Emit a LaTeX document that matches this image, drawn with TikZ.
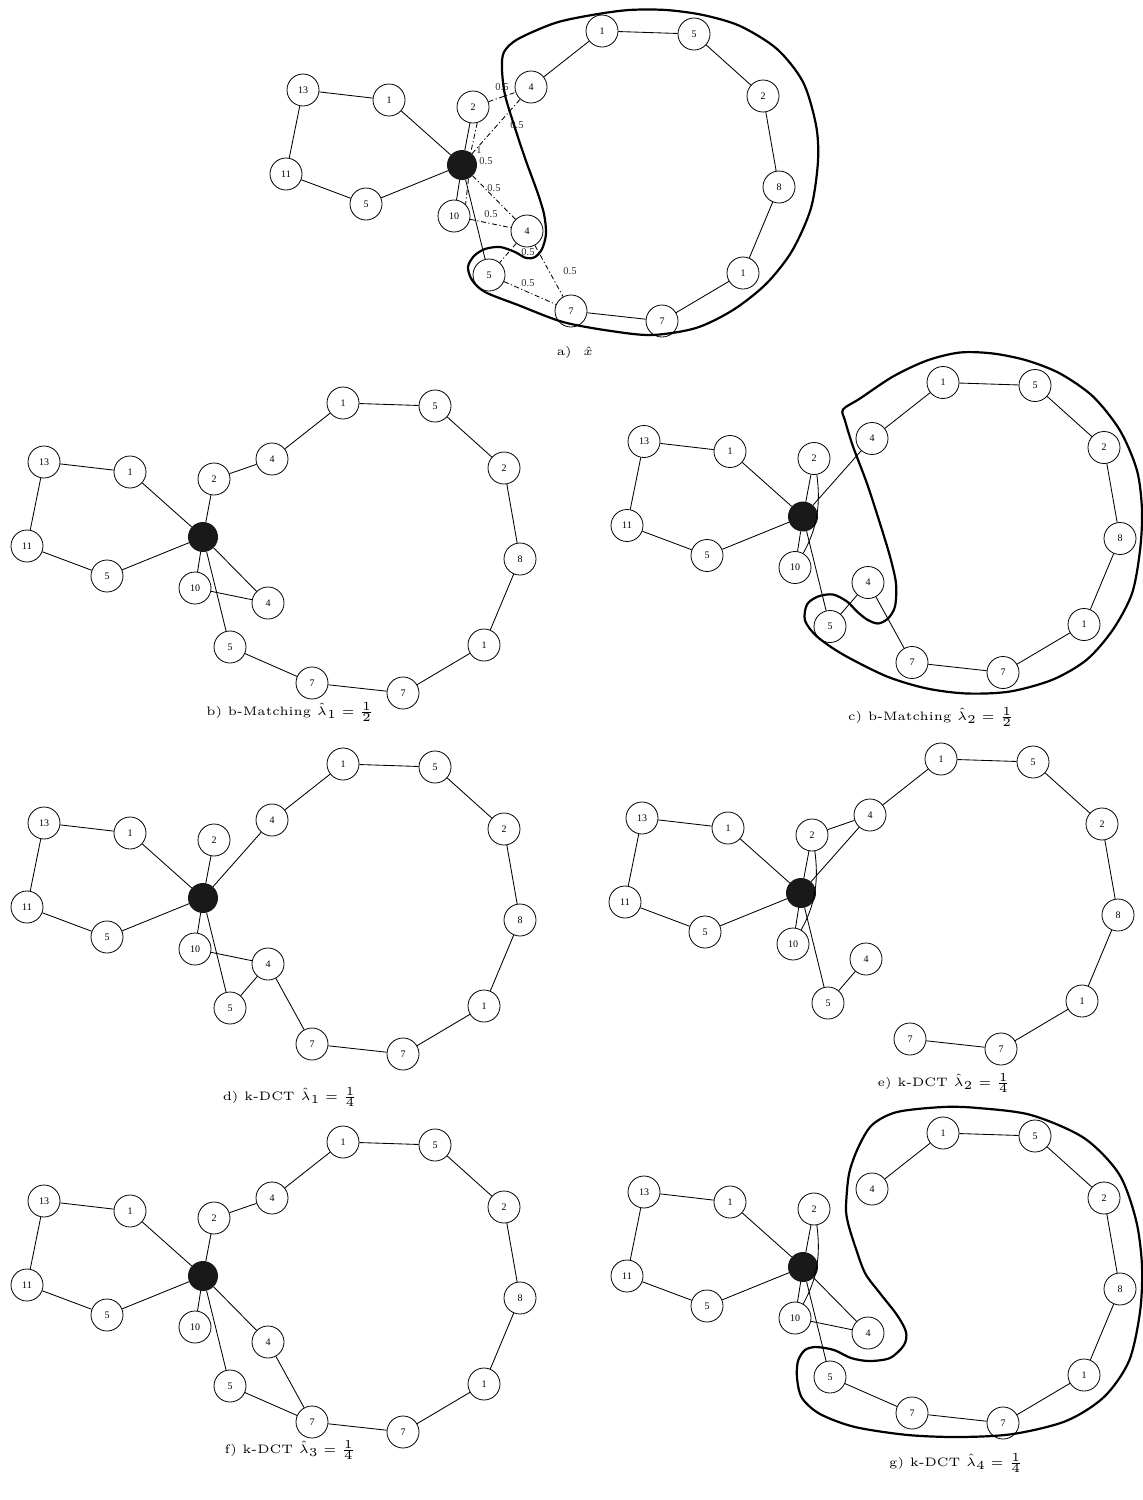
\documentclass[tikz,border=0pt]{standalone}
\usepackage{fontspec}
\newfontfamily\numfont{Liberation Serif}
\tikzset{
  vx/.style={circle,draw,fill=white,line width=0.8pt,minimum size=32pt,inner sep=0pt,
    font=\numfont\fontsize{10}{10}\selectfont},
  hub/.style={circle,fill=black!90,minimum size=30pt,inner sep=0pt},
  edge/.style={line width=0.85pt},
  halfedge/.style={line width=0.85pt,dash pattern=on 5pt off 2.5pt on 1.2pt off 2.5pt},
  wt/.style={inner sep=0pt,text=black!80,font=\numfont\fontsize{10.5}{10.5}\selectfont},
  loopline/.style={line width=2.2pt,line join=round},
  caption/.style={scale=2.45,inner sep=0pt,font=\tiny},
  pics/basegraph/.style={code={
    \node[hub] (-h) at (0,0) {};
    \node[vx] (-n13) at (-159,-75) {13};
    \node[vx] (-n1a) at (-73,-65) {1};
    \node[vx] (-n11) at (-176,9) {11};
    \node[vx] (-n5l) at (-96,39) {5};
    \node[vx] (-n2) at (11,-58) {2};
    \node[vx] (-n4u) at (69,-78) {4};
    \node[vx] (-n1t) at (140,-134) {1};
    \node[vx] (-n5t) at (232,-131) {5};
    \node[vx] (-n2r) at (301,-69) {2};
    \node[vx] (-n8) at (317,22) {8};
    \node[vx] (-n1r) at (281,108) {1};
    \node[vx] (-n7r) at (200,156) {7};
    \node[vx] (-n7b) at (109,146) {7};
    \node[vx] (-n5b) at (27,110) {5};
    \node[vx] (-n4b) at (65,66) {4};
    \node[vx] (-n10) at (-8,51) {10};
  }}
}
\begin{document}
\begin{tikzpicture}[x=1pt,y=-1pt]
\fill[white] (0,0) rectangle (1143,1500);
\useasboundingbox (0,0) rectangle (1143,1500);

% the seven copies of the graph, one per panel
\pic (a) at (462,165) {basegraph};
\pic (b) at (203,537) {basegraph};
\pic (c) at (803,516.5) {basegraph};
\pic (d) at (203,898) {basegraph};
\pic (e) at (801,893) {basegraph};
\pic (f) at (203,1276) {basegraph};
\pic (g) at (803,1267) {basegraph};

% edges shared by every panel
\foreach \p in {a,b,c,d,e,f,g}{
  \draw[edge] (\p-n13) -- (\p-n1a) (\p-n13) -- (\p-n11) (\p-n11) -- (\p-n5l)
    (\p-n1a) -- (\p-h) (\p-n5l) -- (\p-h) (\p-h) -- (\p-n2) (\p-h) -- (\p-n10)
    (\p-h) -- (\p-n5b) (\p-n4u) -- (\p-n1t) (\p-n1t) -- (\p-n5t) (\p-n5t) -- (\p-n2r)
    (\p-n2r) -- (\p-n8) (\p-n8) -- (\p-n1r) (\p-n1r) -- (\p-n7r) (\p-n7r) -- (\p-n7b);
}

% a) fractional solution
\draw[halfedge] (a-n2) -- (a-n4u);
\draw[halfedge] (a-h) -- (a-n4u);
\draw[halfedge] (a-n2.-75) -- (a-h.55);
\draw[halfedge] (a-h.-65) -- (a-n10.45);
\draw[halfedge] (a-h) -- (a-n4b);
\draw[halfedge] (a-n10) -- (a-n4b);
\draw[halfedge] (a-n4b) -- (a-n5b);
\draw[halfedge] (a-n4b) -- (a-n7b);
\draw[halfedge] (a-n5b) -- (a-n7b);
\begin{scope}[shift={(462,165)}]
  \node[wt] (wa1) at (40,-78) {0.5};
  \node[wt] (wa2) at (55,-40) {0.5};
  \node[wt] (wa3) at (17,-15) {1};
  \node[wt] (wa4) at (24,-4) {0.5};
  \node[wt] (wa5) at (32,23) {0.5};
  \node[wt] (wa6) at (29,49) {0.5};
  \node[wt] (wa7) at (66,87) {0.5};
  \node[wt] (wa8) at (108,106) {0.5};
  \node[wt] (wa9) at (66,118) {0.5};
  \draw[loopline] plot[smooth cycle] coordinates {
    (42,-113) (56,-126) (93,-142) (130,-150) (167,-155) (204,-155) (241,-150)
    (278,-139) (315,-116) (341,-83) (354,-40) (356,-4) (349,43) (330,86)
    (304,119) (271,145) (234,163) (190,170) (149,166) (101,157) (56,140)
    (23,127) (10,115) (6,102) (12,91) (23,84) (38,82) (53,87) (64,93) (73,92)
    (80,84) (84,69) (82,49) (75,26) (64,-4) (53,-37) (43,-70) (40,-96)};
\end{scope}

% b) first b-matching
\draw[edge] (b-n2) -- (b-n4u) (b-n7b) -- (b-n5b) (b-h) -- (b-n4b) (b-n10) -- (b-n4b);

% c) second b-matching
\draw[edge] (c-h) -- (c-n4u) (c-n7b) -- (c-n4b) (c-n4b) -- (c-n5b);
\draw[edge] (c-n2.-80) .. controls +(4,30) and +(14,-25) .. (c-n10.60);
\begin{scope}[shift={(803,516.5)}]
  \draw[loopline] plot[smooth cycle] coordinates {
    (40,-107) (57,-118) (90,-140) (124,-156) (157,-164) (190,-163) (224,-156)
    (257,-143) (290,-120) (317,-86) (334,-46) (339,-6) (337,34) (329,77)
    (310,113) (284,143) (250,163) (207,175) (164,177) (124,172) (84,160)
    (40,138) (14,120) (2,104) (4,88) (15,80) (30,78) (44,85) (54,95) (64,103)
    (75,107) (85,102) (92,90) (93,67) (87,40) (77,7) (64,-33) (50,-70) (42,-96)};
\end{scope}

% d) first k-DCT
\draw[edge] (d-h) -- (d-n4u) (d-n7b) -- (d-n4b) (d-n4b) -- (d-n5b) (d-n4b) -- (d-n10);

% e) second k-DCT
\draw[edge] (e-n2) -- (e-n4u) (e-h) -- (e-n4u) (e-n5b) -- (e-n4b);
\draw[edge] (e-n2.-80) .. controls +(4,30) and +(14,-25) .. (e-n10.60);

% f) third k-DCT
\draw[edge] (f-n2) -- (f-n4u) (f-h) -- (f-n4b) (f-n4b) -- (f-n7b) (f-n5b) -- (f-n7b);

% g) fourth k-DCT
\draw[edge] (g-h) -- (g-n4b) (g-n10) -- (g-n4b) (g-n5b) -- (g-n7b);
\draw[edge] (g-n2.-80) .. controls +(4,30) and +(14,-25) .. (g-n10.60);
\begin{scope}[shift={(803,1267)}]
  \draw[loopline] plot[smooth cycle] coordinates {
    (43,-60) (46,-93) (55,-119) (69,-142) (94,-155) (140,-160) (175,-159)
    (228,-152) (281,-129) (316,-93) (333,-47) (339,-1) (337,45) (326,94)
    (301,130) (263,154) (210,167) (157,170) (105,168) (52,160) (17,147)
    (-1,131) (-6,111) (-5,94) (2,83) (13,80) (31,83) (48,91) (66,94) (87,91)
    (101,78) (103,65) (94,48) (76,25) (62,6) (52,-21) (45,-44)};
\end{scope}

% captions
\node[caption] (capa) at (575,352) {a)\ \ $\hat{x}$};
\node[caption] (capb) at (290,712) {b) b-Matching $\hat{\lambda}_1 = \frac{1}{2}$};
\node[caption] (capc) at (931,717) {c) b-Matching $\hat{\lambda}_2 = \frac{1}{2}$};
\node[caption] (capd) at (290,1097) {d) k-DCT $\hat{\lambda}_1 = \frac{1}{4}$};
\node[caption] (cape) at (944,1083) {e) k-DCT $\hat{\lambda}_2 = \frac{1}{4}$};
\node[caption] (capf) at (290,1450) {f) k-DCT $\hat{\lambda}_3 = \frac{1}{4}$};
\node[caption] (capg) at (956,1463) {g) k-DCT $\hat{\lambda}_4 = \frac{1}{4}$};
\end{tikzpicture}
\end{document}
